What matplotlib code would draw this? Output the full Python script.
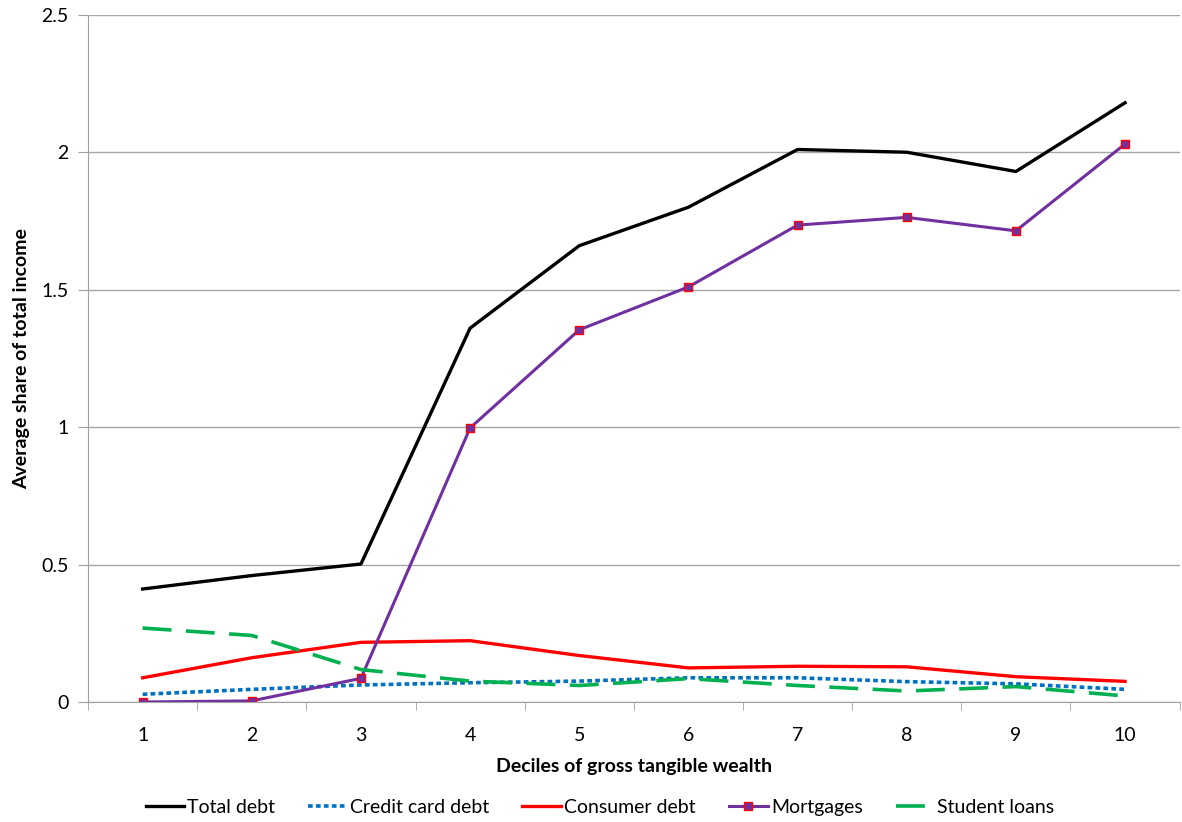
import matplotlib
matplotlib.use("Agg")
import matplotlib.pyplot as plt
import numpy as np

# deciles and series values (share of total income)
deciles = [1, 2, 3, 4, 5, 6, 7, 8, 9, 10]
total_debt = [0.411, 0.460, 0.502, 1.36, 1.66, 1.80, 2.01, 2.00, 1.93, 2.18]
credit_card = [0.028, 0.046, 0.062, 0.070, 0.076, 0.088, 0.088, 0.074, 0.066, 0.046]
consumer = [0.088, 0.161, 0.217, 0.223, 0.169, 0.124, 0.130, 0.128, 0.092, 0.075]
mortgages = [0.0, 0.004, 0.086, 0.997, 1.354, 1.51, 1.735, 1.763, 1.714, 2.03]
student = [0.269, 0.242, 0.118, 0.076, 0.060, 0.085, 0.060, 0.040, 0.056, 0.022]
y_ticks = [0, 0.5, 1, 1.5, 2, 2.5]
y_labels = ["0", "0.5", "1", "1.5", "2", "2.5"]

plt.rcParams['font.family'] = ['Lato', 'DejaVu Sans']

fig = plt.figure(figsize=(11.82, 8.22), dpi=100)
ax = fig.add_axes([0.0745, 0.146, 0.9235, 0.836])

ax.plot(deciles, total_debt, color='black', lw=2.4, label='Total debt')
ax.plot(deciles, credit_card, color='#0070C0', lw=2.6, ls=(0, (1.3, 0.9)),
        label='Credit card debt')
ax.plot(deciles, consumer, color='#FF0000', lw=2.4, label='Consumer debt')
ax.plot(deciles, mortgages, color='#7030A0', lw=2.2, marker='s', markersize=6,
        markerfacecolor='#7030A0', markeredgecolor='#FF0000', markeredgewidth=1,
        label='Mortgages')
ax.plot(deciles, student, color='#00B050', lw=2.6, ls=(0, (8, 4)),
        label='Student loans')

ax.set_xlim(0.5, 10.5)
ax.set_ylim(0, 2.5)
ax.set_xticks(deciles)
ax.set_xticks(np.arange(0.5, 11, 1), minor=True)
ax.tick_params(axis='x', which='major', length=0, labelsize=14, pad=18)
ax.tick_params(axis='x', which='minor', length=6, color='#A0A0A0', direction='out')
ax.set_yticks(y_ticks)
ax.set_yticklabels(y_labels)
ax.tick_params(axis='y', length=7, color='#A0A0A0', labelsize=14, pad=7)

ax.grid(axis='y', color='#A6A6A6', lw=1)
ax.set_axisbelow(True)
for s in ['top', 'right']:
    ax.spines[s].set_visible(False)
for s in ['left', 'bottom']:
    ax.spines[s].set_color('#A0A0A0')

ax.set_xlabel('Deciles of gross tangible wealth', fontsize=14, fontweight='bold', labelpad=10)
ax.set_ylabel('Average share of total income', fontsize=14, fontweight='bold', labelpad=8)

# legend sits a little left of the axes centre, as in the original
ax.legend(loc='upper center', bbox_to_anchor=(0.469, -0.116), ncol=5, frameon=False,
          fontsize=14, handlelength=2.0, handletextpad=0.15, columnspacing=1.7)

fig.savefig('out.png', dpi=100)
